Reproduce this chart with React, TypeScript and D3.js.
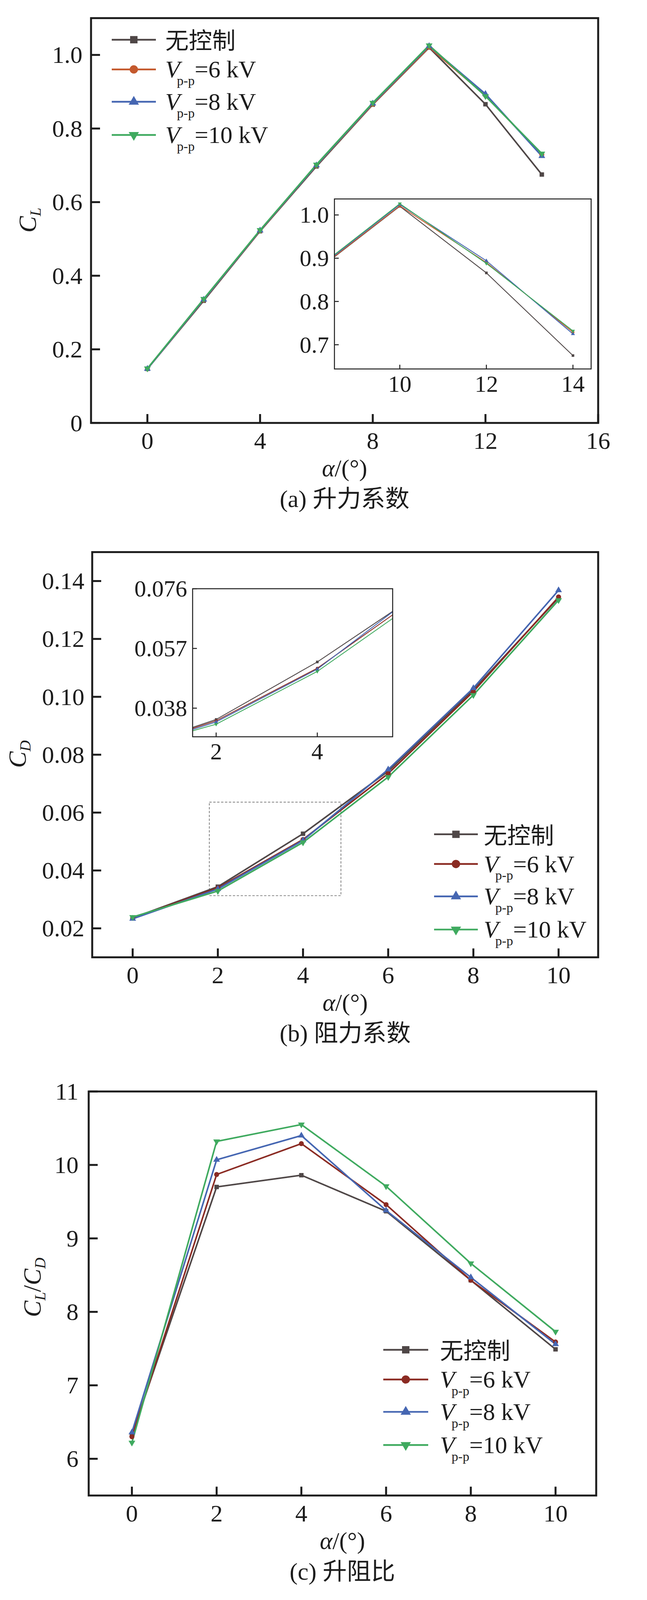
import * as d3 from 'd3'

const FONT = "'Liberation Serif', 'Times New Roman', 'Noto Sans CJK SC', serif"
const INK = '#1c1c1c'

// (a) lift coefficient
const ALPHA_LIFT = [0, 2, 4, 6, 8, 10, 12, 14]
const CL_BASE = [0.147, 0.332, 0.521, 0.697, 0.865, 1.02, 0.866, 0.675]
const CL_6KV = [0.147, 0.334, 0.522, 0.699, 0.866, 1.021, 0.89, 0.729]
const CL_8KV = [0.147, 0.335, 0.523, 0.7, 0.868, 1.024, 0.894, 0.725]
const CL_10KV = [0.148, 0.337, 0.524, 0.702, 0.87, 1.026, 0.888, 0.732]
const LIFT_X_TICKS = [0, 4, 8, 12, 16]
const LIFT_Y_TICKS = [0, 0.2, 0.4, 0.6, 0.8, 1.0]
const LIFT_INSET_X_TICKS = [10, 12, 14]
const LIFT_INSET_Y_TICKS = [0.7, 0.8, 0.9, 1.0]

// (b) drag coefficient
const ALPHA_DRAG = [0, 2, 4, 6, 8, 10]
const CD_BASE = [0.0236, 0.0344, 0.0527, 0.0743, 0.1024, 0.1342]
const CD_6KV = [0.0235, 0.034, 0.0507, 0.0735, 0.1018, 0.1345]
const CD_8KV = [0.0233, 0.0336, 0.0504, 0.0749, 0.103, 0.1368]
const CD_10KV = [0.0239, 0.0329, 0.0497, 0.0723, 0.1006, 0.1334]
const DRAG_X_TICKS = [0, 2, 4, 6, 8, 10]
const DRAG_Y_TICKS = [0.02, 0.04, 0.06, 0.08, 0.1, 0.12, 0.14]
const DRAG_INSET_X_TICKS = [2, 4]
const DRAG_INSET_Y_TICKS = [0.038, 0.057, 0.076]
const DRAG_ZOOM_BOX = [1.8, 4.89, 0.0313, 0.0636] // x0, x1, y0, y1 in data units

// (c) lift-to-drag ratio
const RATIO_BASE = [6.33, 9.7, 9.86, 9.37, 8.43, 7.49]
const RATIO_6KV = [6.3, 9.87, 10.29, 9.46, 8.43, 7.59]
const RATIO_8KV = [6.36, 10.07, 10.4, 9.38, 8.47, 7.56]
const RATIO_10KV = [6.22, 10.32, 10.55, 9.71, 8.66, 7.73]
const RATIO_Y_TICKS = [6, 7, 8, 9, 10, 11]

const LEGEND_VOLTAGES = ['6 kV', '8 kV', '10 kV']
const COLORS_A = ['#4f4747', '#c4592d', '#4566b2', '#3faa5f']
const COLORS_BC = ['#4f4747', '#8b2b23', '#4566b2', '#3faa5f']

const SHAPES = [d3.symbolSquare, d3.symbolCircle, d3.symbolTriangle, d3.symbolTriangle]

function Marker({ i, size, x, y, color }: { i: number; size: number; x: number; y: number; color: string }) {
  const d = d3.symbol(SHAPES[i], size)() || ''
  return <path d={d} transform={`translate(${x},${y})${i === 3 ? ' rotate(180)' : ''}`} fill={color} />
}

function Legend({ x0, x1, tx, y0, colors }: { x0: number; x1: number; tx: number; y0: number; colors: string[] }) {
  const offsets = [0, 77, 161, 247]
  return (
    <g>
      {colors.map((c, i) => {
        const ly = y0 + offsets[i]
        return (
          <g key={i}>
            <line x1={x0} x2={x1} y1={ly} y2={ly} stroke={c} strokeWidth={4.5} />
            <Marker i={i} size={i === 2 || i === 3 ? 300 : 360} x={(x0 + x1) / 2} y={ly} color={c} />
            {i === 0 ? (
              <text x={tx} y={ly + 4} dominantBaseline="central" fontSize={60} fill={INK}>无控制</text>
            ) : (
              <text x={tx} y={ly + 21} fontSize={62} fill={INK}>
                <tspan fontStyle="italic">V</tspan>
                <tspan fontSize={34} dx={-8} dy={20}>p-p</tspan>
                <tspan dy={-20}>={LEGEND_VOLTAGES[i - 1]}</tspan>
              </text>
            )}
          </g>
        )
      })}
    </g>
  )
}

interface Box { left: number; top: number; right: number; bottom: number }

interface InsetCfg extends Box {
  id: string
  xDomain: [number, number]
  yDomain: [number, number]
  xTicks: number[]
  yTicks: number[]
  yFmt: (v: number) => string
}

interface PanelCfg extends Box {
  xs: number[]
  series: number[][]
  colors: string[]
  xDomain: [number, number]
  yDomain: [number, number]
  xTicks: number[]
  yTicks: number[]
  yFmt: (v: number) => string
  labelGap: number
  yTitle: React.ReactNode
  yTitlePos: [number, number]
  caption: string
  legend: { x0: number; x1: number; tx: number; y0: number }
  inset?: InsetCfg
  zoomBox?: number[]
}

function Inset({ cfg, xs, series, colors }: { cfg: InsetCfg; xs: number[]; series: number[][]; colors: string[] }) {
  const x = d3.scaleLinear().domain(cfg.xDomain).range([cfg.left, cfg.right])
  const y = d3.scaleLinear().domain(cfg.yDomain).range([cfg.bottom, cfg.top])
  const line = d3.line<number>().x((_, i) => x(xs[i])).y(d => y(d))
  return (
    <g>
      <defs>
        <clipPath id={cfg.id}>
          <rect x={cfg.left} y={cfg.top} width={cfg.right - cfg.left} height={cfg.bottom - cfg.top} />
        </clipPath>
      </defs>
      <rect x={cfg.left} y={cfg.top} width={cfg.right - cfg.left} height={cfg.bottom - cfg.top} fill="#fff" />
      <g clipPath={`url(#${cfg.id})`}>
        {series.map((s, k) => (
          <path key={k} d={line(s) || ''} fill="none" stroke={colors[k]} strokeWidth={2.2} />
        ))}
        {series.map((s, k) =>
          s.map((v, j) => <Marker key={`${k}-${j}`} i={k} size={45} x={x(xs[j])} y={y(v)} color={colors[k]} />)
        )}
      </g>
      {cfg.xTicks.map(t => (
        <g key={t}>
          <line x1={x(t)} x2={x(t)} y1={cfg.bottom} y2={cfg.bottom - 11} stroke={INK} strokeWidth={2.5} />
          <text x={x(t)} y={cfg.bottom + 59} textAnchor="middle" fontSize={60} fill={INK}>{t}</text>
        </g>
      ))}
      {cfg.yTicks.map(t => (
        <g key={t}>
          <line x1={cfg.left} x2={cfg.left + 11} y1={y(t)} y2={y(t)} stroke={INK} strokeWidth={2.5} />
          <text x={cfg.left - 14} y={y(t)} dy="0.34em" textAnchor="end" fontSize={60} fill={INK}>{cfg.yFmt(t)}</text>
        </g>
      ))}
      <rect x={cfg.left} y={cfg.top} width={cfg.right - cfg.left} height={cfg.bottom - cfg.top} fill="none" stroke={INK} strokeWidth={2.5} />
    </g>
  )
}

function Panel({ cfg }: { cfg: PanelCfg }) {
  const x = d3.scaleLinear().domain(cfg.xDomain).range([cfg.left, cfg.right])
  const y = d3.scaleLinear().domain(cfg.yDomain).range([cfg.bottom, cfg.top])
  const line = d3.line<number>().x((_, i) => x(cfg.xs[i])).y(d => y(d))
  const cx = (cfg.left + cfg.right) / 2
  return (
    <g>
      {cfg.zoomBox && (
        <rect
          x={x(cfg.zoomBox[0])}
          y={y(cfg.zoomBox[3])}
          width={x(cfg.zoomBox[1]) - x(cfg.zoomBox[0])}
          height={y(cfg.zoomBox[2]) - y(cfg.zoomBox[3])}
          fill="none"
          stroke="#808080"
          strokeWidth={2}
          strokeDasharray="6,4"
        />
      )}
      {cfg.series.map((s, k) => (
        <path key={k} d={line(s) || ''} fill="none" stroke={cfg.colors[k]} strokeWidth={4} />
      ))}
      {cfg.series.map((s, k) =>
        s.map((v, j) => <Marker key={`${k}-${j}`} i={k} size={130} x={x(cfg.xs[j])} y={y(v)} color={cfg.colors[k]} />)
      )}
      {cfg.inset && <Inset cfg={cfg.inset} xs={cfg.xs} series={cfg.series} colors={cfg.colors} />}
      <Legend {...cfg.legend} colors={cfg.colors} />
      {cfg.xTicks.map(t => (
        <g key={t}>
          <line x1={x(t)} x2={x(t)} y1={cfg.bottom} y2={cfg.bottom - 23} stroke={INK} strokeWidth={5} />
          <text x={x(t)} y={cfg.bottom + 67} textAnchor="middle" fontSize={62} fill={INK}>{t}</text>
        </g>
      ))}
      {cfg.yTicks.map(t => (
        <g key={t}>
          <line x1={cfg.left} x2={cfg.left + 23} y1={y(t)} y2={y(t)} stroke={INK} strokeWidth={5} />
          <text x={cfg.left - cfg.labelGap} y={y(t)} dy="0.34em" textAnchor="end" fontSize={62} fill={INK}>{cfg.yFmt(t)}</text>
        </g>
      ))}
      <rect x={cfg.left} y={cfg.top} width={cfg.right - cfg.left} height={cfg.bottom - cfg.top} fill="none" stroke={INK} strokeWidth={5} />
      <text transform={`translate(${cfg.yTitlePos[0]},${cfg.yTitlePos[1]}) rotate(-90)`} textAnchor="middle" fontSize={64} fill={INK}>
        {cfg.yTitle}
      </text>
      <text x={cx} y={cfg.bottom + 138} textAnchor="middle" fontSize={62} fill={INK}>
        <tspan fontStyle="italic">α</tspan>/(°)
      </text>
      <text x={cx} y={cfg.bottom + 218} textAnchor="middle" fontSize={62} fill={INK}>{cfg.caption}</text>
    </g>
  )
}

const sub = (main: string, s: string) => [
  <tspan key={main + s + 'm'} fontStyle="italic">{main}</tspan>,
  <tspan key={main + s + 's'} fontStyle="italic" fontSize={40} dy={12}>{s}</tspan>,
]

const PANEL_A: PanelCfg = {
  left: 233, top: 47, right: 1531, bottom: 1097,
  xs: ALPHA_LIFT,
  series: [CL_BASE, CL_6KV, CL_8KV, CL_10KV],
  colors: COLORS_A,
  xDomain: [-2, 16],
  yDomain: [0, 1.1],
  xTicks: LIFT_X_TICKS,
  yTicks: LIFT_Y_TICKS,
  yFmt: v => (v === 0 ? '0' : d3.format('.1f')(v)),
  labelGap: 22,
  yTitle: sub('C', 'L'),
  yTitlePos: [92, 571],
  caption: '(a) 升力系数',
  legend: { x0: 286, x1: 399, tx: 423, y0: 103 },
  inset: {
    id: 'clip-a', left: 856, top: 516, right: 1513, bottom: 957,
    xDomain: [8.49, 14.42], yDomain: [0.644, 1.037],
    xTicks: LIFT_INSET_X_TICKS, yTicks: LIFT_INSET_Y_TICKS,
    yFmt: d3.format('.1f'),
  },
}

const PANEL_B: PanelCfg = {
  left: 236, top: 1432, right: 1531, bottom: 2483,
  xs: ALPHA_DRAG,
  series: [CD_BASE, CD_6KV, CD_8KV, CD_10KV],
  colors: COLORS_BC,
  xDomain: [-0.95, 10.93],
  yDomain: [0.01, 0.15],
  xTicks: DRAG_X_TICKS,
  yTicks: DRAG_Y_TICKS,
  yFmt: d3.format('.2f'),
  labelGap: 20,
  yTitle: sub('C', 'D'),
  yTitlePos: [66, 1956],
  caption: '(b) 阻力系数',
  legend: { x0: 1111, x1: 1223, tx: 1238, y0: 2164 },
  inset: {
    id: 'clip-b', left: 493, top: 1527, right: 1005, bottom: 1911,
    xDomain: [1.535, 5.49], yDomain: [0.0289, 0.076],
    xTicks: DRAG_INSET_X_TICKS, yTicks: DRAG_INSET_Y_TICKS,
    yFmt: d3.format('.3f'),
  },
  zoomBox: DRAG_ZOOM_BOX,
}

const PANEL_C: PanelCfg = {
  left: 227, top: 2831, right: 1526, bottom: 3879,
  xs: ALPHA_DRAG,
  series: [RATIO_BASE, RATIO_6KV, RATIO_8KV, RATIO_10KV],
  colors: COLORS_BC,
  xDomain: [-1.02, 10.96],
  yDomain: [5.5, 11],
  xTicks: DRAG_X_TICKS,
  yTicks: RATIO_Y_TICKS,
  yFmt: d3.format('d'),
  labelGap: 26,
  yTitle: [...sub('C', 'L'), <tspan key="slash" dy={-12}>/</tspan>, ...sub('C', 'D')],
  yTitlePos: [104, 3339],
  caption: '(c) 升阻比',
  legend: { x0: 981, x1: 1096, tx: 1126, y0: 3501 },
}

export default function App() {
  // the drawing is laid out on a 1656 x 4150 grid and stretched over whatever viewport the page gets
  return (
    <svg
      viewBox="0 0 1656 4150"
      preserveAspectRatio="none"
      style={{ position: 'fixed', left: 0, top: 0, width: '100vw', height: '100vh', background: '#fff' }}
      fontFamily={FONT}
    >
      <rect width={1656} height={4150} fill="#fff" />
      <Panel cfg={PANEL_A} />
      <Panel cfg={PANEL_B} />
      <Panel cfg={PANEL_C} />
    </svg>
  )
}
